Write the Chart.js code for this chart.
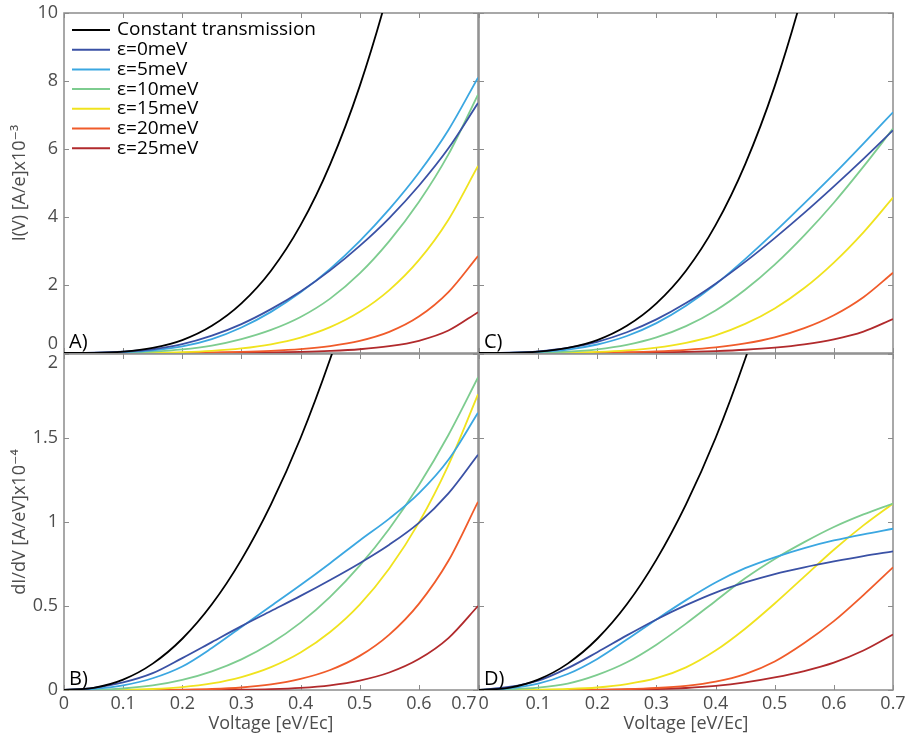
<!DOCTYPE html>
<html><head><meta charset="utf-8">
<script src="https://cdn.jsdelivr.net/npm/chart.js@4/dist/chart.umd.min.js"></script>
<style>
html,body{margin:0;padding:0;background:#fff;}
#wrap{position:relative;width:907px;height:738px;overflow:hidden;background:#fff;}
canvas{position:absolute;}
</style></head><body>
<div id="wrap">
<canvas id="cA" width="500" height="360" style="left:0;top:0"></canvas>
<canvas id="cC" width="447" height="360" style="left:460px;top:0"></canvas>
<canvas id="cB" width="500" height="398" style="left:0;top:340px"></canvas>
<canvas id="cD" width="447" height="398" style="left:460px;top:340px"></canvas>
</div>
<script>
// ---------- data ----------
const voltage = [0,0.05,0.1,0.15,0.2,0.25,0.3,0.35,0.4,0.45,0.5,0.55,0.6,0.65,0.7];
const seriesNames = ['Constant transmission','ε=0meV','ε=5meV','ε=10meV','ε=15meV','ε=20meV','ε=25meV'];
const xTickValues = [0,0.1,0.2,0.3,0.4,0.5,0.6,0.7];
const topTickValues = [0,2,4,6,8,10];
const bottomTickValues = [0,0.5,1,1.5,2];

// constant transmission (same in both columns)
const I_const = [0,0.004,0.039,0.148,0.38,0.80,1.46,2.42,3.76,5.55,7.85,10.75,14.3];
const G_const = [0,0.013,0.062,0.157,0.305,0.51,0.776,1.105,1.50,1.97,2.51,3.12];

// panel A : I(V)
const A_e0  = [0,0.008,0.04,0.11,0.26,0.51,0.85,1.29,1.81,2.43,3.15,3.97,4.92,6.02,7.35];
const A_e5  = [0,0.004,0.024,0.078,0.194,0.411,0.751,1.21,1.784,2.475,3.29,4.23,5.30,6.56,8.1];
const A_e10 = [0,0.002,0.012,0.041,0.105,0.22,0.41,0.68,1.06,1.60,2.34,3.29,4.44,5.84,7.6];
const A_e15 = [0,0,0.002,0.009,0.027,0.065,0.136,0.257,0.454,0.759,1.21,1.85,2.73,3.92,5.5];
const A_e20 = [0,0,0,0.002,0.006,0.015,0.032,0.063,0.115,0.205,0.356,0.62,1.07,1.79,2.85];
const A_e25 = [0,0,0,0,0.001,0.003,0.007,0.017,0.034,0.062,0.11,0.2,0.36,0.66,1.2];

// panel B : dI/dV
const B_e0  = [0,0.013,0.045,0.1,0.19,0.285,0.38,0.47,0.56,0.655,0.755,0.865,0.995,1.17,1.40];
const B_e5  = [0,0.007,0.028,0.07,0.14,0.25,0.375,0.5,0.625,0.755,0.89,1.02,1.17,1.37,1.65];
const B_e10 = [0,0.001,0.009,0.027,0.06,0.111,0.182,0.278,0.401,0.554,0.74,0.96,1.219,1.518,1.86];
const B_e15 = [0,0,0.001,0.006,0.017,0.039,0.077,0.136,0.223,0.345,0.508,0.723,0.996,1.339,1.76];
const B_e20 = [0,0,0,0,0.002,0.006,0.015,0.033,0.066,0.119,0.203,0.33,0.513,0.769,1.12];
const B_e25 = [0,0,0,0,0,0.001,0.002,0.0055,0.013,0.028,0.056,0.104,0.184,0.309,0.5];

// panel C : I(V)
const C_e0  = [0,0.01,0.05,0.15,0.33,0.61,0.99,1.47,2.04,2.68,3.38,4.12,4.90,5.71,6.55];
const C_e5  = [0,0.005,0.031,0.10,0.25,0.5,0.88,1.39,2.02,2.76,3.56,4.4,5.26,6.16,7.08];
const C_e10 = [0,0.002,0.012,0.04,0.108,0.239,0.457,0.79,1.25,1.86,2.60,3.46,4.42,5.48,6.6];
const C_e15 = [0,0,0.003,0.011,0.031,0.075,0.158,0.30,0.52,0.855,1.31,1.91,2.66,3.55,4.57];
const C_e20 = [0,0,0,0.003,0.009,0.022,0.047,0.092,0.164,0.28,0.46,0.73,1.11,1.64,2.36];
const C_e25 = [0,0,0,0,0.003,0.008,0.018,0.033,0.057,0.095,0.157,0.253,0.40,0.63,1.0];

// panel D : dI/dV
const D_e0  = [0,0.018,0.055,0.13,0.225,0.325,0.42,0.505,0.58,0.64,0.69,0.73,0.765,0.797,0.825];
const D_e5  = [0,0.01,0.038,0.095,0.185,0.3,0.42,0.535,0.64,0.725,0.79,0.845,0.89,0.927,0.96];
const D_e10 = [0,0.004,0.014,0.038,0.09,0.165,0.27,0.395,0.53,0.665,0.78,0.88,0.97,1.045,1.11];
const D_e15 = [0,0,0.002,0.006,0.015,0.035,0.07,0.135,0.235,0.365,0.515,0.675,0.835,0.98,1.11];
const D_e20 = [0,0,0,0.001,0.002,0.005,0.012,0.025,0.05,0.095,0.17,0.28,0.41,0.565,0.73];
const D_e25 = [0,0,0,0,0.001,0.003,0.006,0.012,0.024,0.045,0.075,0.113,0.163,0.235,0.33];

// ---------- style ----------
const seriesColors = ['#000000','#3a51a5','#3ba7e1','#7dcc8f','#f0e31e','#f05b2a','#b12a2c'];
const FONT = "'Open Sans', 'DejaVu Sans', sans-serif";
const AXIS_COLOR = '#8c8c8c';
const TEXT_COLOR = '#4d4d4d';
const NB = '\u00A0';

function makeDatasets(list) {
  return list.map((arr, i) => ({
    label: seriesNames[i],
    data: arr.map((y, k) => ({x: voltage[k], y})),
    borderColor: seriesColors[i],
    backgroundColor: seriesColors[i],
    borderWidth: 1.8,
    pointRadius: 0,
    fill: false,
    cubicInterpolationMode: 'monotone'
  }));
}

const framePlugin = {
  id: 'frame',
  beforeDatasetsDraw(chart, args, opts) {
    const {ctx, chartArea: a, scales} = chart;
    const xs = scales.x, ys = scales.y;
    ctx.save();
    ctx.strokeStyle = AXIS_COLOR;
    ctx.lineWidth = 1;
    ctx.beginPath();
    xTickValues.forEach(v => {
      const px = Math.round(xs.getPixelForValue(v)) + 0.5;
      ctx.moveTo(px, a.bottom); ctx.lineTo(px, a.bottom - 5);
      ctx.moveTo(px, a.top); ctx.lineTo(px, a.top + 5);
    });
    opts.yTicks.forEach(v => {
      const py = Math.round(ys.getPixelForValue(v)) + 0.5;
      ctx.moveTo(a.left, py); ctx.lineTo(a.left + 5, py);
      ctx.moveTo(a.right, py); ctx.lineTo(a.right - 5, py);
    });
    ctx.stroke();
    ctx.lineWidth = 1.5;
    ctx.strokeRect(a.left, a.top, a.right - a.left, a.bottom - a.top);
    ctx.restore();
  },
  afterDatasetsDraw(chart, args, opts) {
    const {ctx, chartArea: a} = chart;
    ctx.save();
    ctx.fillStyle = '#000';
    ctx.font = `20px ${FONT}`;
    ctx.textAlign = 'left';
    ctx.textBaseline = 'alphabetic';
    ctx.fillText(opts.letter, a.left + 5, a.bottom - 5);
    if (opts.legend) {
      ctx.font = `19px ${FONT}`;
      ctx.textBaseline = 'middle';
      chart.data.datasets.forEach((ds, i) => {
        const y = a.top + 17 + i * 19.7;
        ctx.strokeStyle = ds.borderColor;
        ctx.lineWidth = 2;
        ctx.beginPath();
        ctx.moveTo(a.left + 8, y); ctx.lineTo(a.left + 46, y);
        ctx.stroke();
        ctx.fillStyle = '#000';
        ctx.fillText(ds.label, a.left + 53, y);
      });
    }
    ctx.restore();
  }
};

function makeChart(id, cfg) {
  const isBottom = cfg.bottom;
  const showY = cfg.left;
  return new Chart(document.getElementById(id), {
    type: 'line',
    data: {datasets: makeDatasets(cfg.series)},
    plugins: [framePlugin],
    options: {
      responsive: false,
      animation: false,
      devicePixelRatio: 1,
      layout: {padding: cfg.padding},
      plugins: {
        legend: {display: false},
        tooltip: {enabled: false},
        frame: {letter: cfg.letter, legend: !!cfg.legend, yTicks: cfg.yTicks}
      },
      scales: {
        x: {
          type: 'linear', min: 0, max: 0.7,
          display: isBottom,
          grid: {display: false, drawTicks: false},
          border: {display: false},
          afterBuildTicks: s => { s.ticks = xTickValues.map(v => ({value: v})); },
          afterFit: s => {
            s.height = isBottom ? 48 : 0;
            s.paddingLeft = 0; s.paddingRight = 0; s.paddingTop = 0; s.paddingBottom = 0;
          },
          ticks: {
            color: TEXT_COLOR, padding: 3,
            font: {family: FONT, size: 18},
            maxRotation: 0, autoSkip: false,
            callback: v => {
              const t = String(Math.round(v * 10) / 10);
              if (cfg.left && Math.abs(v - 0.7) < 1e-9) return t + NB.repeat(6);
              if (!cfg.left && v === 0) return NB.repeat(2) + t;
              return t;
            }
          },
          title: {
            display: true, text: 'Voltage [eV/Ec]', color: TEXT_COLOR,
            font: {family: FONT, size: 18}, padding: {top: 0, bottom: 3}
          }
        },
        y: {
          type: 'linear', min: cfg.yMin, max: cfg.yMax,
          display: showY,
          grid: {display: false, drawTicks: false},
          border: {display: false},
          afterBuildTicks: s => { s.ticks = cfg.yTicks.map(v => ({value: v})); },
          afterFit: s => {
            s.width = showY ? 64 : 0;
            s.paddingLeft = 0; s.paddingRight = 0; s.paddingTop = 0; s.paddingBottom = 0;
          },
          ticks: {
            color: TEXT_COLOR, padding: 6,
            font: {family: FONT, size: 18, lineHeight: 1.0},
            autoSkip: false,
            callback: v => {
              const t = String(v);
              if (!isBottom && v === 0) return [t, ''];
              if (isBottom && v === cfg.yMax) return ['', t];
              return t;
            }
          },
          title: {
            display: showY, text: cfg.yTitle, color: TEXT_COLOR,
            font: {family: FONT, size: 18}, padding: {top: 9, bottom: 0}
          }
        }
      }
    }
  });
}

makeChart('cA', {
  series: [I_const, A_e0, A_e5, A_e10, A_e15, A_e20, A_e25],
  letter: 'A)', legend: true, left: true, bottom: false,
  yMin: 0, yMax: 10, yTicks: topTickValues,
  yTitle: 'I(V) [A/e]x10⁻³',
  padding: {top: 13, right: 22, bottom: 7, left: 0}
});
makeChart('cC', {
  series: [I_const, C_e0, C_e5, C_e10, C_e15, C_e20, C_e25],
  letter: 'C)', left: false, bottom: false,
  yMin: 0, yMax: 10, yTicks: topTickValues,
  yTitle: '',
  padding: {top: 13, right: 14, bottom: 7, left: 19}
});
makeChart('cB', {
  series: [G_const, B_e0, B_e5, B_e10, B_e15, B_e20, B_e25],
  letter: 'B)', left: true, bottom: true,
  yMin: 0, yMax: 2, yTicks: bottomTickValues,
  yTitle: 'dI/dV [A/eV]x10⁻⁴',
  padding: {top: 14, right: 22, bottom: 0, left: 0}
});
makeChart('cD', {
  series: [G_const, D_e0, D_e5, D_e10, D_e15, D_e20, D_e25],
  letter: 'D)', left: false, bottom: true,
  yMin: 0, yMax: 2, yTicks: bottomTickValues,
  yTitle: '',
  padding: {top: 14, right: 14, bottom: 0, left: 19}
});
</script>
</body></html>
